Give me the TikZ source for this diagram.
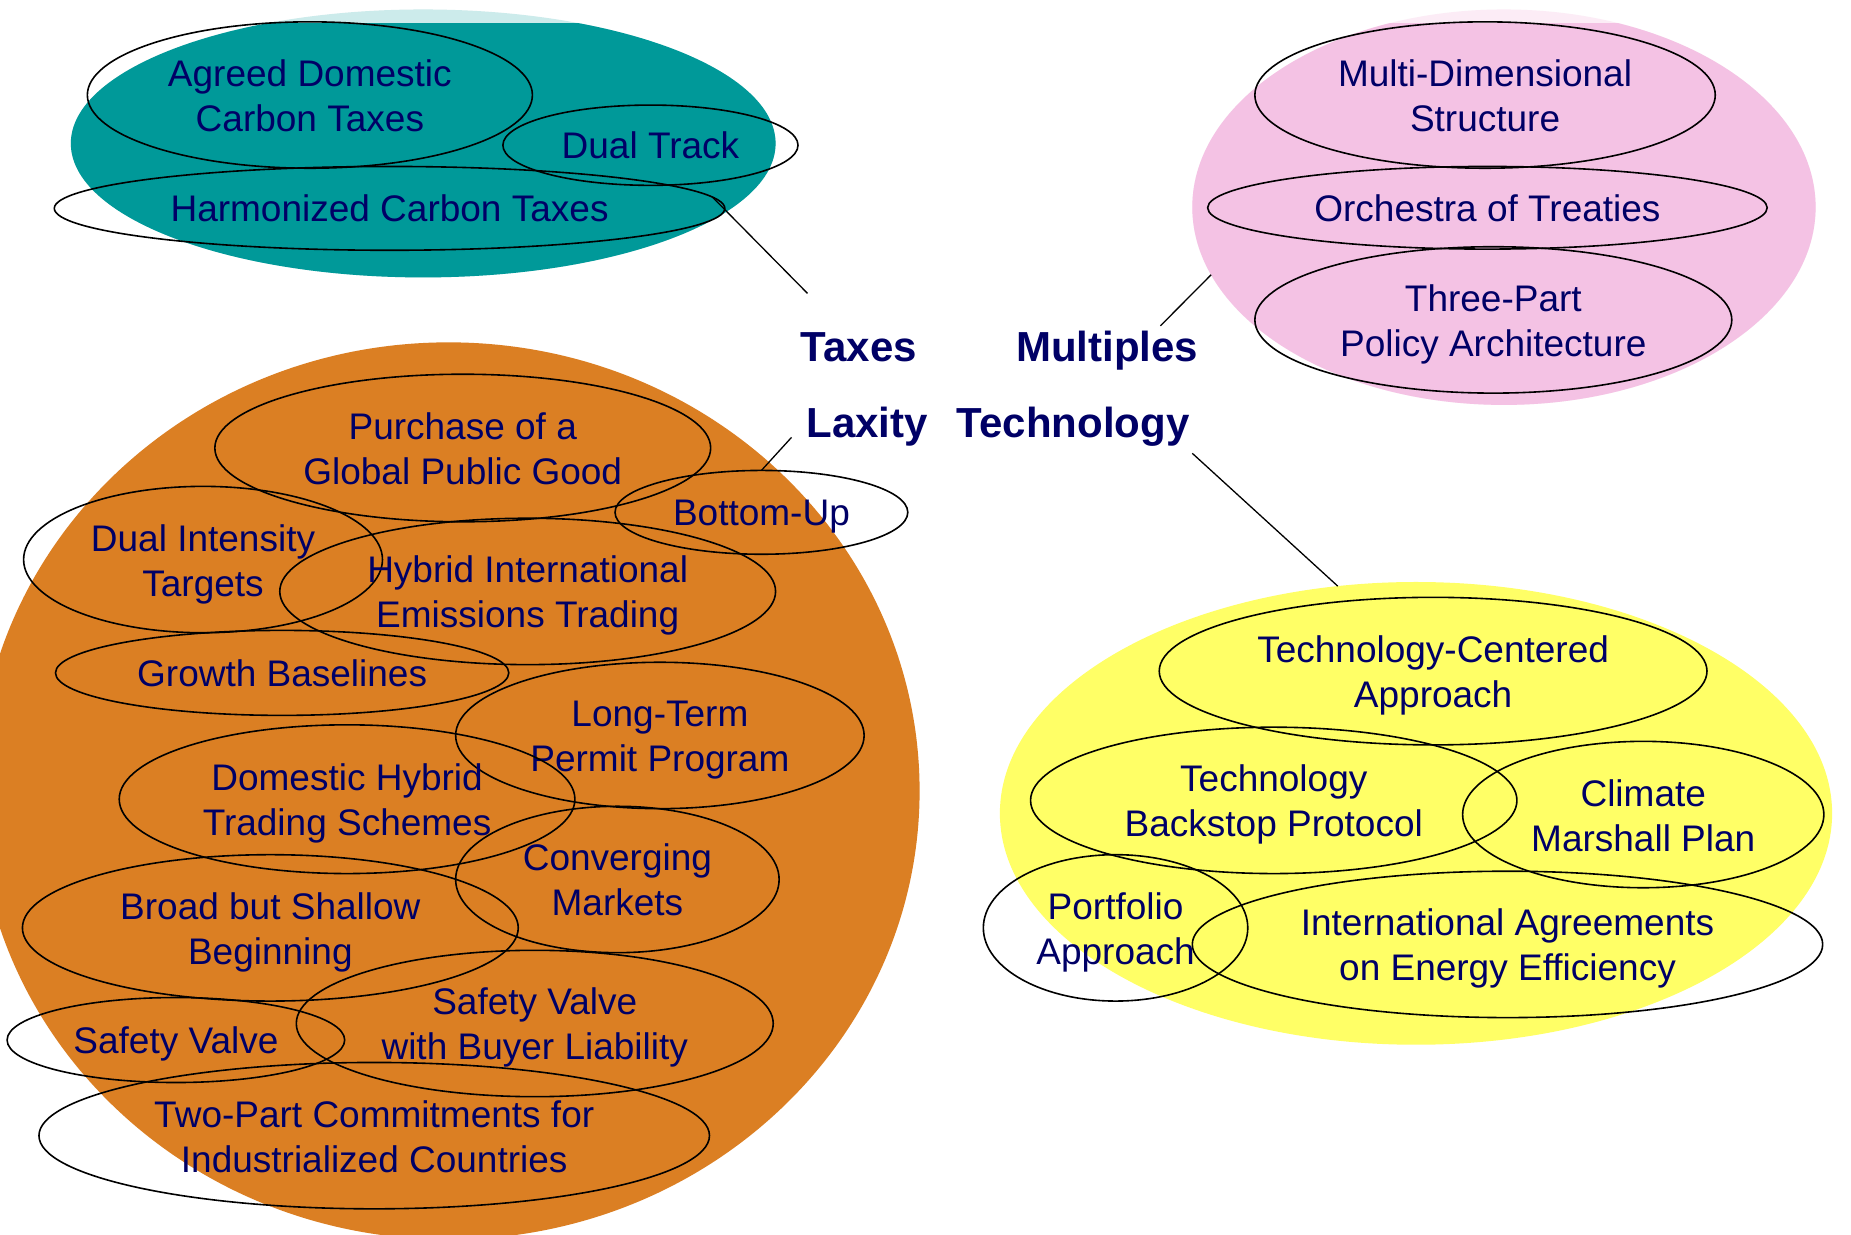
\documentclass[tikz,border=0pt]{standalone}
\usepackage{fontspec}
\setmainfont{Liberation Sans}
\usetikzlibrary{shapes.geometric}

\newlength\px
\setlength\px{1.1805pt}

% fixed box metrics so that every label sits at the same height in its ellipse
\newcommand\ringtext[1]{\raisebox{0pt}[27pt][0pt]{#1}}
\newcommand\ringpair[2]{\raisebox{0pt}[73pt][0pt]{%
  \begin{tabular}[b]{@{}c@{}}#1\\#2\end{tabular}}}

\definecolor{navytext}{RGB}{0,0,102}
\definecolor{tealblob}{RGB}{0,153,153}
\definecolor{tealpale}{RGB}{204,235,235}
\definecolor{pinkblob}{RGB}{244,194,228}
\definecolor{pinkpale}{RGB}{252,236,246}
\definecolor{orangeblob}{RGB}{219,127,35}
\definecolor{yellowblob}{RGB}{255,255,102}

\begin{document}
\begin{tikzpicture}[x=1.1805pt, y=-1.1805pt,
  blob/.style 2 args={ellipse, draw=none, inner sep=0pt, outer sep=0pt,
    minimum width=2*#1*\px, minimum height=2*#2*\px},
  ring/.style 2 args={ellipse, draw=black, line width=1.6pt, inner sep=0pt, outer sep=0pt,
    minimum width=2*#1*\px, minimum height=2*#2*\px,
    text=navytext, font=\fontsize{37}{45}\selectfont},
  head/.style={text=navytext, font=\bfseries\fontsize{42}{50}\selectfont,
    inner sep=0pt, anchor=base},
  link/.style={draw=black, line width=1.3pt}]

\useasboundingbox (0,0) rectangle (1568,1046);
\fill[white] (0,0) rectangle (1568,1046);

% ---- coloured group backgrounds ----
\node[blob={298.5}{113.5}, fill=tealpale] (taxgrp) at (358.5,121.5) {};
\begin{scope}
  \clip (0,20.3) rectangle (1568,400);
  \fill[tealblob] (358.5,121.5) ellipse [x radius=298.5, y radius=113.5];
\end{scope}

\node[blob={264}{167.5}, fill=pinkpale] (multgrp) at (1274,175.5) {};
\begin{scope}
  \clip (0,20.3) rectangle (1568,400);
  \fill[pinkblob] (1274,175.5) ellipse [x radius=264, y radius=167.5];
\end{scope}

\node[blob={399}{380}, fill=orangeblob] (laxgrp) at (380,670) {};
\node[blob={352.5}{196}, fill=yellowblob] (techgrp) at (1199.5,689) {};

% ---- taxes ----
\node[ring={188.5}{62}] (agreed) at (262.5,80.5) {\ringpair{Agreed Domestic}{Carbon Taxes}};
\node[ring={125}{34}] (dualtrack) at (551,123) {\ringtext{Dual Track}};
\node[ring={284}{35.5}] (harmonized) at (330,176.5) {\ringtext{Harmonized Carbon Taxes}};

% ---- multiples ----
\node[ring={195}{62}] (multidim) at (1258,80.5) {\ringpair{Multi-Dimensional}{Structure}};
\node[ring={237}{35}] (orchestra) at (1260,176) {\ringtext{Orchestra of Treaties}};
\node[ring={202}{62}] (threepart) at (1265,271) {\ringpair{Three-Part}{Policy Architecture}};

% ---- laxity ----
\node[ring={210}{62.5}] (purchase) at (392,379.5) {\ringpair{Purchase of a}{Global Public Good}};
\node[ring={124}{35.5}] (bottomup) at (645,434) {\ringtext{Bottom-Up}};
\node[ring={152}{62}] (dualint) at (172,474) {\ringpair{Dual Intensity}{Targets}};
\node[ring={210}{62}] (hybridint) at (447,501) {\ringpair{Hybrid International}{Emissions Trading}};
\node[ring={192}{36}] (growth) at (239,570) {\ringtext{Growth Baselines}};
\node[ring={173}{62}] (longterm) at (559,623) {\ringpair{Long-Term}{Permit Program}};
\node[ring={193}{63}] (domhybrid) at (294,677) {\ringpair{Domestic Hybrid}{Trading Schemes}};
\node[ring={137}{62}] (converging) at (523,745) {\ringpair{Converging}{Markets}};
\node[ring={210}{62}] (broad) at (229,786) {\ringpair{Broad but Shallow}{Beginning}};
\node[ring={202}{62}] (svbuyer) at (453,867) {\ringpair{Safety Valve}{with Buyer Liability}};
\node[ring={143}{36}] (safety) at (149,881) {\ringtext{Safety Valve}};
\node[ring={284}{62}] (twopart) at (317,962) {\ringpair{Two-Part Commitments for}{Industrialized Countries}};

% ---- technology ----
\node[ring={232}{62.5}] (techcent) at (1214,568.5) {\ringpair{Technology-Centered}{Approach}};
\node[ring={206}{62}] (backstop) at (1079,678) {\ringpair{Technology}{Backstop Protocol}};
\node[ring={153}{62}] (marshall) at (1392,690) {\ringpair{Climate}{Marshall Plan}};
\node[ring={112}{62}] (portfolio) at (945,786) {\ringpair{Portfolio}{Approach}};
\node[ring={267}{62}] (efficiency) at (1277,800) {\ringpair{International Agreements}{on Energy Efficiency}};

% ---- central headings ----
\node[head] (taxes) at (727.5,306) {Taxes};
\node[head] (multiples) at (938,306) {Multiples};
\node[head] (laxity) at (734.5,371) {Laxity};
\node[head] (technology) at (909,371) {Technology};

% ---- connectors ----
\coordinate (taxestip) at (684,248.5);
\coordinate (multtip) at (983,276);
\coordinate (laxtip) at (670.5,370.5);
\coordinate (techtip) at (1010,384);

\draw[link] (harmonized.2) -- (taxestip);
\draw[link] (multtip) -- (multgrp.193);
\draw[link] (bottomup.north) -- (laxtip);
\draw[link] (techtip) -- (techgrp.109);

\end{tikzpicture}
\end{document}
